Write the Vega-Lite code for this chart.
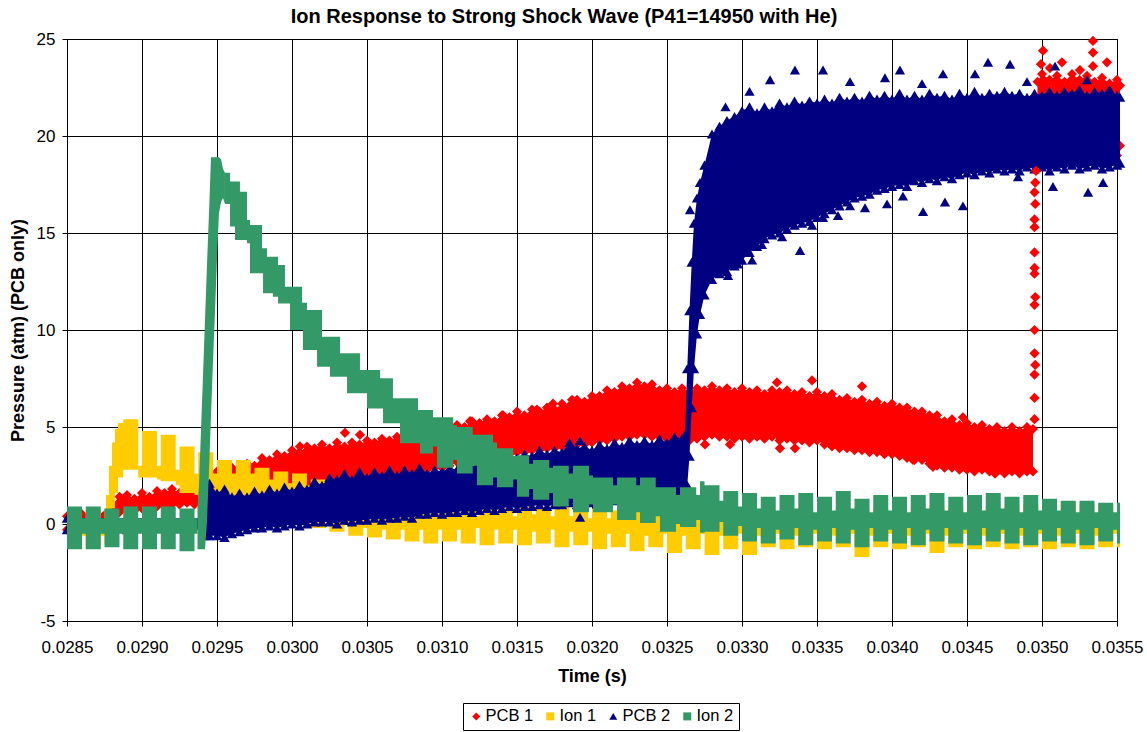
{
"$schema":"https://vega.github.io/schema/vega-lite/v6.json",
"width":1050,"height":582,
"autosize":{"type":"none"},
"padding":{"left":67,"top":39,"right":30,"bottom":111},
"background":"white",
"title":{"text":"Ion Response to Strong Shock Wave (P41=14950 with He)","font":"Liberation Sans","fontSize":20,"fontWeight":"bold","color":"black","anchor":"middle","offset":3,"dx":-28},
"datasets":{
"pcb1":[
{"g":1,"t":0.0285,"lo":-0.3,"hi":0.4},{"g":1,"t":0.0286,"lo":-0.2,"hi":0.5},{"g":1,"t":0.0287,"lo":-0.3,"hi":0.4},{"g":1,"t":0.0288,"lo":0.2,"hi":1.0},{"g":1,"t":0.02885,"lo":0.6,"hi":1.4},{"g":1,"t":0.0289,"lo":0.7,"hi":1.5},{"g":1,"t":0.02895,"lo":0.7,"hi":1.3},{"g":1,"t":0.029,"lo":0.8,"hi":1.6},{"g":1,"t":0.02905,"lo":0.8,"hi":1.4},{"g":1,"t":0.0291,"lo":0.9,"hi":1.7},{"g":1,"t":0.02915,"lo":0.9,"hi":1.6},{"g":1,"t":0.0292,"lo":1.0,"hi":1.8},{"g":1,"t":0.02925,"lo":1.0,"hi":1.6},{"g":1,"t":0.0293,"lo":1.1,"hi":1.9},{"g":1,"t":0.02935,"lo":1.0,"hi":1.7},{"g":1,"t":0.0294,"lo":1.1,"hi":2.0},{"g":1,"t":0.02945,"lo":1.2,"hi":2.5},{"g":1,"t":0.0295,"lo":1.3,"hi":2.7},{"g":1,"t":0.02955,"lo":1.3,"hi":2.6},{"g":1,"t":0.0296,"lo":1.4,"hi":2.9},{"g":1,"t":0.02965,"lo":1.4,"hi":2.8},{"g":1,"t":0.0297,"lo":1.5,"hi":3.1},{"g":1,"t":0.02975,"lo":1.5,"hi":3.0},{"g":1,"t":0.0298,"lo":1.6,"hi":3.4},{"g":1,"t":0.02985,"lo":1.7,"hi":3.3},{"g":1,"t":0.0299,"lo":1.7,"hi":3.6},{"g":1,"t":0.02995,"lo":1.8,"hi":3.5},{"g":1,"t":0.03,"lo":1.9,"hi":3.8},{"g":1,"t":0.03005,"lo":1.9,"hi":3.7},{"g":1,"t":0.0301,"lo":2.0,"hi":4.0},{"g":1,"t":0.03015,"lo":2.0,"hi":3.9},{"g":1,"t":0.0302,"lo":2.1,"hi":4.1},{"g":1,"t":0.03025,"lo":2.1,"hi":3.9},{"g":1,"t":0.0303,"lo":2.2,"hi":4.2},{"g":1,"t":0.03035,"lo":2.2,"hi":4.0},{"g":1,"t":0.0304,"lo":2.3,"hi":4.2},{"g":1,"t":0.03045,"lo":2.3,"hi":4.1},{"g":1,"t":0.0305,"lo":2.4,"hi":4.3},{"g":1,"t":0.03055,"lo":2.4,"hi":4.2},{"g":1,"t":0.0306,"lo":2.5,"hi":4.4},{"g":1,"t":0.03065,"lo":2.5,"hi":4.3},{"g":1,"t":0.0307,"lo":2.6,"hi":4.5},{"g":1,"t":0.03075,"lo":2.6,"hi":4.4},{"g":1,"t":0.0308,"lo":2.7,"hi":4.6},{"g":1,"t":0.03085,"lo":2.8,"hi":4.6},{"g":1,"t":0.0309,"lo":2.8,"hi":4.8},{"g":1,"t":0.03095,"lo":2.9,"hi":4.7},{"g":1,"t":0.031,"lo":2.9,"hi":4.9},{"g":1,"t":0.03105,"lo":3.0,"hi":4.9},{"g":1,"t":0.0311,"lo":3.2,"hi":5.1},{"g":1,"t":0.03115,"lo":3.3,"hi":5.0},{"g":1,"t":0.0312,"lo":3.4,"hi":5.3},{"g":1,"t":0.03125,"lo":3.4,"hi":5.2},{"g":1,"t":0.0313,"lo":3.5,"hi":5.4},{"g":1,"t":0.03135,"lo":3.5,"hi":5.3},{"g":1,"t":0.0314,"lo":3.6,"hi":5.6},{"g":1,"t":0.03145,"lo":3.6,"hi":5.5},{"g":1,"t":0.0315,"lo":3.7,"hi":5.8},{"g":1,"t":0.03155,"lo":3.7,"hi":5.6},{"g":1,"t":0.0316,"lo":3.8,"hi":5.9},{"g":1,"t":0.03165,"lo":3.8,"hi":5.8},{"g":1,"t":0.0317,"lo":3.9,"hi":6.0},{"g":1,"t":0.03175,"lo":3.9,"hi":5.9},{"g":1,"t":0.0318,"lo":4.0,"hi":6.2},{"g":1,"t":0.03185,"lo":4.0,"hi":6.1},{"g":1,"t":0.0319,"lo":4.1,"hi":6.4},{"g":1,"t":0.03195,"lo":4.1,"hi":6.3},{"g":1,"t":0.032,"lo":4.2,"hi":6.6},{"g":1,"t":0.03205,"lo":4.3,"hi":6.6},{"g":1,"t":0.0321,"lo":4.3,"hi":6.9},{"g":1,"t":0.03215,"lo":4.4,"hi":6.8},{"g":1,"t":0.0322,"lo":4.5,"hi":7.1},{"g":1,"t":0.03225,"lo":4.5,"hi":7.0},{"g":1,"t":0.0323,"lo":4.6,"hi":7.3},{"g":1,"t":0.03235,"lo":4.6,"hi":7.1},{"g":1,"t":0.0324,"lo":4.5,"hi":7.2},{"g":1,"t":0.03245,"lo":4.5,"hi":6.9},{"g":1,"t":0.0325,"lo":4.4,"hi":7.0},{"g":1,"t":0.03255,"lo":4.3,"hi":6.8},{"g":1,"t":0.0326,"lo":4.2,"hi":7.0},{"g":1,"t":0.03265,"lo":4.3,"hi":6.8},{"g":1,"t":0.0327,"lo":4.4,"hi":7.0},{"g":1,"t":0.03275,"lo":4.5,"hi":6.9},{"g":1,"t":0.0328,"lo":4.6,"hi":7.1},{"g":1,"t":0.03285,"lo":4.5,"hi":6.9},{"g":1,"t":0.0329,"lo":4.5,"hi":7.0},{"g":1,"t":0.03295,"lo":4.4,"hi":6.8},{"g":1,"t":0.033,"lo":4.5,"hi":7.0},{"g":1,"t":0.03305,"lo":4.4,"hi":6.8},{"g":1,"t":0.0331,"lo":4.5,"hi":6.9},{"g":1,"t":0.03315,"lo":4.4,"hi":6.7},{"g":1,"t":0.0332,"lo":4.5,"hi":6.9},{"g":1,"t":0.03325,"lo":4.3,"hi":6.8},{"g":1,"t":0.0333,"lo":4.4,"hi":6.9},{"g":1,"t":0.03335,"lo":4.3,"hi":6.7},{"g":1,"t":0.0334,"lo":4.3,"hi":6.8},{"g":1,"t":0.03345,"lo":4.2,"hi":6.6},{"g":1,"t":0.0335,"lo":4.3,"hi":6.8},{"g":1,"t":0.03355,"lo":4.1,"hi":6.6},{"g":1,"t":0.0336,"lo":4.0,"hi":6.7},{"g":1,"t":0.03365,"lo":3.9,"hi":6.4},{"g":1,"t":0.0337,"lo":3.9,"hi":6.5},{"g":1,"t":0.03375,"lo":3.8,"hi":6.3},{"g":1,"t":0.0338,"lo":3.8,"hi":6.4},{"g":1,"t":0.03385,"lo":3.7,"hi":6.2},{"g":1,"t":0.0339,"lo":3.7,"hi":6.3},{"g":1,"t":0.03395,"lo":3.6,"hi":6.1},{"g":1,"t":0.034,"lo":3.6,"hi":6.2},{"g":1,"t":0.03405,"lo":3.5,"hi":6.0},{"g":1,"t":0.0341,"lo":3.4,"hi":6.0},{"g":1,"t":0.03415,"lo":3.3,"hi":5.8},{"g":1,"t":0.0342,"lo":3.3,"hi":5.8},{"g":1,"t":0.03425,"lo":3.1,"hi":5.6},{"g":1,"t":0.0343,"lo":3.0,"hi":5.6},{"g":1,"t":0.03435,"lo":2.9,"hi":5.3},{"g":1,"t":0.0344,"lo":2.9,"hi":5.4},{"g":1,"t":0.03445,"lo":2.8,"hi":5.1},{"g":1,"t":0.0345,"lo":2.8,"hi":5.2},{"g":1,"t":0.03455,"lo":2.7,"hi":5.0},{"g":1,"t":0.0346,"lo":2.8,"hi":5.1},{"g":1,"t":0.03465,"lo":2.7,"hi":4.9},{"g":1,"t":0.0347,"lo":2.7,"hi":5.0},{"g":1,"t":0.03475,"lo":2.6,"hi":4.8},{"g":1,"t":0.0348,"lo":2.7,"hi":5.0},{"g":1,"t":0.03485,"lo":2.6,"hi":4.8},{"g":1,"t":0.0349,"lo":2.7,"hi":5.0},{"g":1,"t":0.03494,"lo":2.7,"hi":4.9},
{"g":2,"t":0.03497,"lo":18.8,"hi":22.8},{"g":2,"t":0.035,"lo":19.0,"hi":23.2},{"g":2,"t":0.03505,"lo":19.2,"hi":22.9},{"g":2,"t":0.0351,"lo":19.0,"hi":23.1},{"g":2,"t":0.03515,"lo":19.3,"hi":22.8},{"g":2,"t":0.0352,"lo":19.1,"hi":23.2},{"g":2,"t":0.03525,"lo":19.2,"hi":22.9},{"g":2,"t":0.0353,"lo":19.0,"hi":23.1},{"g":2,"t":0.03535,"lo":19.3,"hi":22.8},{"g":2,"t":0.0354,"lo":19.1,"hi":23.0},{"g":2,"t":0.03545,"lo":19.2,"hi":22.7},{"g":2,"t":0.0355,"lo":19.0,"hi":22.9},{"g":2,"t":0.03552,"lo":19.5,"hi":22.6}
],
"ion1":[
{"t":0.0285,"lo":-1.2,"hi":0.6},{"t":0.0286,"lo":-0.6,"hi":0.2},{"t":0.028625,"lo":-1.2,"hi":0.7},{"t":0.028725,"lo":-0.6,"hi":0.2},{"t":0.02875,"lo":-1.0,"hi":0.8},{"t":0.02876,"lo":-0.5,"hi":1.5},{"t":0.02878,"lo":0.0,"hi":3.0},{"t":0.0288,"lo":0.8,"hi":4.2},{"t":0.02882,"lo":1.6,"hi":4.9},{"t":0.02884,"lo":2.4,"hi":5.2},
{"t":0.028875,"lo":2.8,"hi":5.4},{"t":0.028975,"lo":2.4,"hi":3.0},{"t":0.029,"lo":2.4,"hi":4.8},{"t":0.0291,"lo":2.3,"hi":3.0},{"t":0.029125,"lo":2.2,"hi":4.6},{"t":0.029225,"lo":2.0,"hi":2.8},{"t":0.02925,"lo":1.6,"hi":4.0},{"t":0.02935,"lo":1.5,"hi":2.6},{"t":0.029375,"lo":1.2,"hi":3.7},{"t":0.029475,"lo":1.2,"hi":2.6},
{"t":0.0295,"lo":0.8,"hi":3.3},{"t":0.0296,"lo":1.0,"hi":2.6},{"t":0.029625,"lo":0.6,"hi":3.3},{"t":0.029725,"lo":0.8,"hi":2.6},{"t":0.02975,"lo":0.4,"hi":2.9},{"t":0.02985,"lo":0.7,"hi":2.3},{"t":0.029875,"lo":0.2,"hi":2.7},{"t":0.029975,"lo":0.5,"hi":2.1},{"t":0.03,"lo":0.0,"hi":2.6},{"t":0.0301,"lo":0.4,"hi":2.0},
{"t":0.030125,"lo":-0.2,"hi":2.3},{"t":0.030225,"lo":0.2,"hi":1.8},{"t":0.03025,"lo":-0.4,"hi":2.1},{"t":0.03035,"lo":0.0,"hi":1.6},{"t":0.030375,"lo":-0.6,"hi":1.9},{"t":0.030475,"lo":-0.2,"hi":1.4},{"t":0.0305,"lo":-0.7,"hi":1.5},{"t":0.0306,"lo":-0.3,"hi":1.1},{"t":0.030625,"lo":-0.8,"hi":1.3},{"t":0.030725,"lo":-0.3,"hi":0.9},
{"t":0.03075,"lo":-0.9,"hi":1.1},{"t":0.03085,"lo":-0.3,"hi":0.6},{"t":0.030875,"lo":-1.0,"hi":1.0},{"t":0.030975,"lo":-0.3,"hi":0.5},{"t":0.031,"lo":-0.9,"hi":0.9},{"t":0.0311,"lo":-0.3,"hi":0.5},{"t":0.031125,"lo":-1.0,"hi":1.0},{"t":0.031225,"lo":-0.2,"hi":0.4},{"t":0.03125,"lo":-1.1,"hi":0.9},{"t":0.03135,"lo":-0.3,"hi":0.5},
{"t":0.031375,"lo":-1.0,"hi":0.8},{"t":0.031475,"lo":-0.3,"hi":0.4},{"t":0.0315,"lo":-1.1,"hi":0.9},{"t":0.0316,"lo":-0.4,"hi":0.5},{"t":0.031625,"lo":-1.0,"hi":0.8},{"t":0.031725,"lo":-0.3,"hi":0.4},{"t":0.03175,"lo":-1.2,"hi":0.9},{"t":0.03185,"lo":-0.4,"hi":0.4},{"t":0.031875,"lo":-1.1,"hi":0.8},{"t":0.031975,"lo":-0.4,"hi":0.3},
{"t":0.032,"lo":-1.3,"hi":0.8},{"t":0.0321,"lo":-0.5,"hi":0.3},{"t":0.032125,"lo":-1.2,"hi":0.7},{"t":0.032225,"lo":-0.5,"hi":0.3},{"t":0.03225,"lo":-1.4,"hi":0.7},{"t":0.03235,"lo":-0.6,"hi":0.2},{"t":0.032375,"lo":-1.2,"hi":0.8},{"t":0.032475,"lo":-0.5,"hi":0.3},{"t":0.0325,"lo":-1.5,"hi":0.7},{"t":0.0326,"lo":-0.6,"hi":0.2},
{"t":0.032625,"lo":-1.3,"hi":0.7},{"t":0.032725,"lo":-0.5,"hi":0.2},{"t":0.03275,"lo":-1.6,"hi":0.6},{"t":0.03285,"lo":-0.6,"hi":0.2},{"t":0.032875,"lo":-1.3,"hi":0.7},{"t":0.032975,"lo":-0.5,"hi":0.3},{"t":0.033,"lo":-1.6,"hi":0.6},{"t":0.0331,"lo":-0.6,"hi":0.2},{"t":0.033125,"lo":-1.2,"hi":0.7},{"t":0.033225,"lo":-0.5,"hi":0.3},
{"t":0.03325,"lo":-1.3,"hi":0.6},{"t":0.03335,"lo":-0.6,"hi":0.2},{"t":0.033375,"lo":-1.2,"hi":0.7},{"t":0.033475,"lo":-0.5,"hi":0.2},{"t":0.0335,"lo":-1.3,"hi":0.7},{"t":0.0336,"lo":-0.6,"hi":0.3},{"t":0.033625,"lo":-1.2,"hi":0.8},{"t":0.033725,"lo":-0.5,"hi":0.3},{"t":0.03375,"lo":-1.7,"hi":0.7},{"t":0.03385,"lo":-0.6,"hi":0.3},
{"t":0.033875,"lo":-1.2,"hi":0.8},{"t":0.033975,"lo":-0.5,"hi":0.3},{"t":0.034,"lo":-1.3,"hi":0.8},{"t":0.0341,"lo":-0.6,"hi":0.3},{"t":0.034125,"lo":-1.2,"hi":0.9},{"t":0.034225,"lo":-0.5,"hi":0.4},{"t":0.03425,"lo":-1.5,"hi":0.9},{"t":0.03435,"lo":-0.6,"hi":0.4},{"t":0.034375,"lo":-1.2,"hi":0.9},{"t":0.034475,"lo":-0.5,"hi":0.4},
{"t":0.0345,"lo":-1.3,"hi":1.0},{"t":0.0346,"lo":-0.6,"hi":0.4},{"t":0.034625,"lo":-1.2,"hi":0.9},{"t":0.034725,"lo":-0.5,"hi":0.4},{"t":0.03475,"lo":-1.3,"hi":1.0},{"t":0.03485,"lo":-0.6,"hi":0.5},{"t":0.034875,"lo":-1.2,"hi":1.0},{"t":0.034975,"lo":-0.5,"hi":0.5},{"t":0.035,"lo":-1.3,"hi":1.0},{"t":0.0351,"lo":-0.6,"hi":0.5},
{"t":0.035125,"lo":-1.2,"hi":1.1},{"t":0.035225,"lo":-0.5,"hi":0.5},{"t":0.03525,"lo":-1.3,"hi":1.0},{"t":0.03535,"lo":-0.6,"hi":0.5},{"t":0.035375,"lo":-1.2,"hi":1.0},{"t":0.035475,"lo":-0.5,"hi":0.4},{"t":0.0355,"lo":-1.2,"hi":0.9},{"t":0.03552,"lo":-1.2,"hi":0.9}
],
"pcb2":[
{"t":0.0285,"lo":-0.3,"hi":0.3},{"t":0.0289,"lo":-0.3,"hi":0.3},{"t":0.0293,"lo":-0.3,"hi":0.3},{"t":0.029413,"lo":-0.3,"hi":0.3},{"t":0.029425,"lo":-0.6,"hi":2.0},
{"t":0.02945,"lo":-0.6,"hi":2.1},{"t":0.0295,"lo":-0.6,"hi":1.6},{"t":0.02955,"lo":-0.7,"hi":1.8},{"t":0.0296,"lo":-0.5,"hi":1.4},{"t":0.02965,"lo":-0.4,"hi":1.6},{"t":0.0297,"lo":-0.3,"hi":1.4},{"t":0.02975,"lo":-0.2,"hi":1.7},{"t":0.0298,"lo":-0.2,"hi":1.5},{"t":0.02985,"lo":-0.1,"hi":1.8},{"t":0.0299,"lo":-0.2,"hi":1.6},
{"t":0.02995,"lo":-0.1,"hi":1.9},{"t":0.03,"lo":0.0,"hi":1.7},{"t":0.03005,"lo":-0.1,"hi":2.0},{"t":0.0301,"lo":0.0,"hi":1.8},{"t":0.03015,"lo":0.1,"hi":2.2},{"t":0.0302,"lo":0.1,"hi":2.0},{"t":0.03025,"lo":0.1,"hi":2.4},{"t":0.0303,"lo":0.0,"hi":2.3},{"t":0.03035,"lo":0.2,"hi":2.6},{"t":0.0304,"lo":0.1,"hi":2.3},
{"t":0.03045,"lo":0.2,"hi":2.7},{"t":0.0305,"lo":0.2,"hi":2.4},{"t":0.03055,"lo":0.3,"hi":2.7},{"t":0.0306,"lo":0.2,"hi":2.5},{"t":0.03065,"lo":0.3,"hi":2.8},{"t":0.0307,"lo":0.3,"hi":2.5},{"t":0.03075,"lo":0.4,"hi":2.8},{"t":0.0308,"lo":0.3,"hi":2.6},{"t":0.03085,"lo":0.5,"hi":2.9},{"t":0.0309,"lo":0.5,"hi":2.6},
{"t":0.03095,"lo":0.6,"hi":2.8},{"t":0.031,"lo":0.5,"hi":2.7},{"t":0.03105,"lo":0.6,"hi":2.9},{"t":0.0311,"lo":0.6,"hi":2.8},{"t":0.03115,"lo":0.7,"hi":3.1},{"t":0.0312,"lo":0.6,"hi":2.9},{"t":0.03125,"lo":0.7,"hi":3.3},{"t":0.0313,"lo":0.8,"hi":3.1},{"t":0.03135,"lo":0.7,"hi":3.4},{"t":0.0314,"lo":0.8,"hi":3.2},
{"t":0.03145,"lo":0.9,"hi":3.5},{"t":0.0315,"lo":0.8,"hi":3.4},{"t":0.03155,"lo":0.9,"hi":3.6},{"t":0.0316,"lo":0.9,"hi":3.5},{"t":0.03165,"lo":1.0,"hi":3.8},{"t":0.0317,"lo":0.9,"hi":3.6},{"t":0.03175,"lo":1.0,"hi":3.8},{"t":0.0318,"lo":1.0,"hi":3.7},{"t":0.03185,"lo":1.1,"hi":4.2},{"t":0.0319,"lo":1.0,"hi":3.9},
{"t":0.03195,"lo":1.1,"hi":4.0},{"t":0.032,"lo":1.1,"hi":3.8},{"t":0.03205,"lo":1.2,"hi":4.1},{"t":0.0321,"lo":1.1,"hi":3.9},{"t":0.03215,"lo":1.2,"hi":4.2},{"t":0.0322,"lo":1.2,"hi":4.0},{"t":0.03225,"lo":1.3,"hi":4.3},{"t":0.0323,"lo":1.2,"hi":4.1},{"t":0.03235,"lo":1.3,"hi":4.3},{"t":0.0324,"lo":1.3,"hi":4.1},
{"t":0.03245,"lo":1.4,"hi":4.4},{"t":0.0325,"lo":1.4,"hi":4.2},{"t":0.03255,"lo":1.4,"hi":4.5},{"t":0.0326,"lo":1.5,"hi":4.4},
{"t":0.03262,"lo":1.6,"hi":4.6},{"t":0.032635,"lo":2.0,"hi":8.0},{"t":0.03265,"lo":3.5,"hi":11.0},{"t":0.032665,"lo":6.0,"hi":13.5},{"t":0.03268,"lo":8.0,"hi":15.5},{"t":0.0327,"lo":9.8,"hi":16.8},{"t":0.03272,"lo":10.8,"hi":17.6},{"t":0.03275,"lo":11.8,"hi":18.5},{"t":0.0328,"lo":12.6,"hi":20.1},{"t":0.03285,"lo":12.9,"hi":20.5},
{"t":0.0329,"lo":13.0,"hi":20.8},{"t":0.03295,"lo":13.3,"hi":21.0},{"t":0.033,"lo":13.6,"hi":21.3},{"t":0.03305,"lo":14.0,"hi":21.5},{"t":0.0331,"lo":14.3,"hi":21.2},{"t":0.03315,"lo":14.7,"hi":21.5},{"t":0.0332,"lo":14.9,"hi":21.3},{"t":0.03325,"lo":15.0,"hi":21.7},{"t":0.0333,"lo":15.2,"hi":21.5},{"t":0.03335,"lo":15.4,"hi":21.8},
{"t":0.0334,"lo":15.5,"hi":21.6},{"t":0.03345,"lo":15.6,"hi":21.8},{"t":0.0335,"lo":15.8,"hi":21.7},{"t":0.03355,"lo":16.0,"hi":21.9},{"t":0.0336,"lo":16.2,"hi":21.7},{"t":0.03365,"lo":16.4,"hi":22.0},{"t":0.0337,"lo":16.6,"hi":21.8},{"t":0.03375,"lo":16.8,"hi":22.0},{"t":0.0338,"lo":16.9,"hi":21.8},{"t":0.03385,"lo":17.0,"hi":22.1},
{"t":0.0339,"lo":17.2,"hi":21.9},{"t":0.03395,"lo":17.3,"hi":22.1},{"t":0.034,"lo":17.4,"hi":21.9},{"t":0.03405,"lo":17.5,"hi":22.2},{"t":0.0341,"lo":17.4,"hi":21.9},{"t":0.03415,"lo":17.7,"hi":22.1},{"t":0.0342,"lo":17.6,"hi":21.9},{"t":0.03425,"lo":17.8,"hi":22.2},{"t":0.0343,"lo":17.7,"hi":22.0},{"t":0.03435,"lo":17.9,"hi":22.1},
{"t":0.0344,"lo":17.8,"hi":21.9},{"t":0.03445,"lo":18.0,"hi":22.2},{"t":0.0345,"lo":18.1,"hi":22.0},{"t":0.03455,"lo":18.0,"hi":22.3},{"t":0.0346,"lo":18.2,"hi":22.0},{"t":0.03465,"lo":18.1,"hi":22.2},{"t":0.0347,"lo":18.3,"hi":22.1},{"t":0.03475,"lo":18.2,"hi":22.3},{"t":0.0348,"lo":18.3,"hi":22.1},{"t":0.03485,"lo":18.2,"hi":22.2},
{"t":0.0349,"lo":18.4,"hi":22.0},{"t":0.03495,"lo":18.3,"hi":22.2},{"t":0.035,"lo":18.4,"hi":22.1},{"t":0.03505,"lo":18.2,"hi":22.3},{"t":0.0351,"lo":18.4,"hi":22.1},{"t":0.03515,"lo":18.3,"hi":22.3},{"t":0.0352,"lo":18.5,"hi":22.2},{"t":0.03525,"lo":18.3,"hi":22.4},{"t":0.0353,"lo":18.4,"hi":22.1},{"t":0.03535,"lo":18.5,"hi":22.3},
{"t":0.0354,"lo":18.3,"hi":22.2},{"t":0.03545,"lo":18.4,"hi":22.4},{"t":0.0355,"lo":18.5,"hi":22.1},{"t":0.03552,"lo":18.6,"hi":22.0}
],
"ion2":[
{"m":"a","t":0.0285,"lo":-1.3,"hi":0.9},{"m":"a","t":0.0286,"lo":-0.5,"hi":0.3},{"m":"a","t":0.028625,"lo":-1.3,"hi":0.9},{"m":"a","t":0.028725,"lo":-0.5,"hi":0.3},{"m":"a","t":0.02875,"lo":-1.2,"hi":0.8},{"m":"a","t":0.02885,"lo":-0.5,"hi":0.3},{"m":"a","t":0.028875,"lo":-1.3,"hi":0.9},{"m":"a","t":0.028975,"lo":-0.5,"hi":0.3},{"m":"a","t":0.029,"lo":-1.3,"hi":0.9},{"m":"a","t":0.0291,"lo":-0.5,"hi":0.3},{"m":"a","t":0.029125,"lo":-1.3,"hi":0.9},{"m":"a","t":0.029225,"lo":-0.5,"hi":0.3},{"m":"a","t":0.02925,"lo":-1.4,"hi":0.8},{"m":"a","t":0.02935,"lo":-0.5,"hi":0.3},{"m":"a","t":0.02937,"lo":-1.3,"hi":0.9},
{"m":"l","t":0.02937,"lo":-1.3,"hi":0.9},{"m":"l","t":0.02938,"lo":-1.3,"hi":2.0},{"m":"l","t":0.029393,"lo":-1.3,"hi":4.8},{"m":"l","t":0.029407,"lo":-1.3,"hi":7.7},{"m":"l","t":0.02942,"lo":-1.3,"hi":10.5},{"m":"l","t":0.029433,"lo":0.1,"hi":13.3},{"m":"l","t":0.029447,"lo":2.8,"hi":16.1},{"m":"l","t":0.02946,"lo":5.6,"hi":18.9},{"m":"l","t":0.029473,"lo":8.3,"hi":18.9},{"m":"l","t":0.029487,"lo":11.0,"hi":18.9},{"m":"l","t":0.0295,"lo":13.7,"hi":18.9},{"m":"l","t":0.029513,"lo":16.0,"hi":18.9},{"m":"l","t":0.029527,"lo":16.6,"hi":18.8},{"m":"l","t":0.02954,"lo":16.8,"hi":18.3},{"m":"l","t":0.029553,"lo":16.5,"hi":18.1},
{"m":"b","t":0.029553,"lo":16.5,"hi":18.1},{"m":"b","t":0.029587,"lo":15.33,"hi":17.65},{"m":"b","t":0.02962,"lo":14.64,"hi":17.65},{"m":"b","t":0.029653,"lo":14.64,"hi":17.13},{"m":"b","t":0.0297,"lo":14.47,"hi":15.67},{"m":"b","t":0.02972,"lo":12.92,"hi":15.41},{"m":"b","t":0.0298,"lo":12.92,"hi":14.21},{"m":"b","t":0.029807,"lo":11.89,"hi":14.21},{"m":"b","t":0.029833,"lo":11.89,"hi":13.78},{"m":"b","t":0.029873,"lo":11.72,"hi":13.78},
{"m":"b","t":0.029907,"lo":11.37,"hi":13.35},{"m":"b","t":0.029953,"lo":11.37,"hi":12.23},{"m":"b","t":0.029987,"lo":10.0,"hi":12.23},{"m":"b","t":0.030067,"lo":10.0,"hi":11.4},{"m":"b","t":0.030073,"lo":8.97,"hi":11.4},{"m":"b","t":0.0301,"lo":8.97,"hi":11.03},{"m":"b","t":0.030167,"lo":8.11,"hi":11.03},{"m":"b","t":0.0302,"lo":8.11,"hi":9.65},{"m":"b","t":0.030253,"lo":7.59,"hi":9.65},{"m":"b","t":0.03032,"lo":7.59,"hi":8.8},
{"m":"b","t":0.030367,"lo":6.74,"hi":8.8},{"m":"b","t":0.030453,"lo":6.74,"hi":7.94},{"m":"b","t":0.0305,"lo":5.96,"hi":7.94},{"m":"b","t":0.030587,"lo":5.96,"hi":7.51},{"m":"b","t":0.030607,"lo":5.19,"hi":7.51},{"m":"b","t":0.030673,"lo":5.19,"hi":6.48},{"m":"b","t":0.03072,"lo":4.16,"hi":6.48},{"m":"b","t":0.03084,"lo":4.16,"hi":5.88},{"m":"b","t":0.030853,"lo":3.64,"hi":5.88},{"m":"b","t":0.03094,"lo":4.0,"hi":5.5},
{"m":"b","t":0.030967,"lo":2.9,"hi":5.5},{"m":"b","t":0.031075,"lo":3.3,"hi":5.1},{"m":"b","t":0.0311,"lo":2.6,"hi":5.0},{"m":"b","t":0.031205,"lo":3.0,"hi":4.6},{"m":"b","t":0.031233,"lo":2.0,"hi":4.6},{"m":"b","t":0.03134,"lo":2.4,"hi":4.2},{"m":"b","t":0.031367,"lo":1.9,"hi":3.9},{"m":"b","t":0.031475,"lo":2.3,"hi":3.5},{"m":"b","t":0.0315,"lo":1.4,"hi":3.55},{"m":"b","t":0.03158,"lo":1.8,"hi":3.1},
{"m":"b","t":0.031607,"lo":1.25,"hi":3.3},{"m":"b","t":0.031715,"lo":1.6,"hi":2.9},{"m":"b","t":0.03174,"lo":0.9,"hi":3.0},{"m":"b","t":0.031845,"lo":1.3,"hi":2.6},{"m":"b","t":0.031873,"lo":0.6,"hi":3.0},{"m":"b","t":0.03198,"lo":1.0,"hi":2.5},{"m":"b","t":0.032007,"lo":0.6,"hi":2.4},{"m":"b","t":0.03214,"lo":1.0,"hi":2.0},{"m":"b","t":0.032167,"lo":0.2,"hi":2.4},{"m":"b","t":0.032295,"lo":0.6,"hi":2.0},
{"m":"b","t":0.03232,"lo":0.05,"hi":2.4},{"m":"b","t":0.032425,"lo":0.4,"hi":1.9},{"m":"b","t":0.032453,"lo":-0.4,"hi":1.9},{"m":"b","t":0.03256,"lo":0.0,"hi":1.5},{"m":"b","t":0.032587,"lo":-0.15,"hi":1.9},{"m":"b","t":0.032695,"lo":0.2,"hi":1.5},{"m":"b","t":0.03272,"lo":-0.45,"hi":2.2},
{"m":"b","t":0.03275,"lo":-0.4,"hi":2.0},{"m":"b","t":0.03285,"lo":0.1,"hi":1.2},{"m":"b","t":0.032875,"lo":-0.6,"hi":1.7},{"m":"b","t":0.032975,"lo":-0.1,"hi":0.9},{"m":"b","t":0.033,"lo":-0.9,"hi":1.6},{"m":"b","t":0.0331,"lo":-0.2,"hi":0.8},{"m":"b","t":0.033125,"lo":-1.0,"hi":1.4},{"m":"b","t":0.033225,"lo":-0.3,"hi":0.7},{"m":"b","t":0.03325,"lo":-0.8,"hi":1.5},{"m":"b","t":0.03335,"lo":-0.2,"hi":0.8},
{"m":"b","t":0.033375,"lo":-1.1,"hi":1.6},{"m":"b","t":0.033475,"lo":-0.3,"hi":0.6},{"m":"b","t":0.0335,"lo":-0.9,"hi":1.4},{"m":"b","t":0.0336,"lo":-0.2,"hi":0.7},{"m":"b","t":0.033625,"lo":-1.0,"hi":1.7},{"m":"b","t":0.033725,"lo":-0.3,"hi":0.8},{"m":"b","t":0.03375,"lo":-1.2,"hi":1.3},{"m":"b","t":0.03385,"lo":-0.2,"hi":0.6},{"m":"b","t":0.033875,"lo":-0.9,"hi":1.5},{"m":"b","t":0.033975,"lo":-0.3,"hi":0.7},
{"m":"b","t":0.034,"lo":-1.0,"hi":1.4},{"m":"b","t":0.0341,"lo":-0.2,"hi":0.6},{"m":"b","t":0.034125,"lo":-1.1,"hi":1.5},{"m":"b","t":0.034225,"lo":-0.3,"hi":0.8},{"m":"b","t":0.03425,"lo":-0.9,"hi":1.6},{"m":"b","t":0.03435,"lo":-0.2,"hi":0.7},{"m":"b","t":0.034375,"lo":-1.0,"hi":1.4},{"m":"b","t":0.034475,"lo":-0.3,"hi":0.6},{"m":"b","t":0.0345,"lo":-1.1,"hi":1.5},{"m":"b","t":0.0346,"lo":-0.2,"hi":0.7},
{"m":"b","t":0.034625,"lo":-0.9,"hi":1.6},{"m":"b","t":0.034725,"lo":-0.3,"hi":0.8},{"m":"b","t":0.03475,"lo":-1.0,"hi":1.4},{"m":"b","t":0.03485,"lo":-0.2,"hi":0.6},{"m":"b","t":0.034875,"lo":-1.1,"hi":1.5},{"m":"b","t":0.034975,"lo":-0.3,"hi":0.7},{"m":"b","t":0.035,"lo":-0.9,"hi":1.3},{"m":"b","t":0.0351,"lo":-0.2,"hi":0.7},{"m":"b","t":0.035125,"lo":-1.0,"hi":1.2},{"m":"b","t":0.035225,"lo":-0.3,"hi":0.6},
{"m":"b","t":0.03525,"lo":-1.1,"hi":1.2},{"m":"b","t":0.03535,"lo":-0.2,"hi":0.6},{"m":"b","t":0.035375,"lo":-0.9,"hi":1.1},{"m":"b","t":0.035475,"lo":-0.3,"hi":0.6},{"m":"b","t":0.0355,"lo":-1.0,"hi":1.1},{"m":"b","t":0.03552,"lo":-1.0,"hi":1.1}
],
"pts":[
{"s":"PCB 1","t":0.030053,"p":4.0},{"s":"PCB 1","t":0.030353,"p":4.7},{"s":"PCB 1","t":0.030453,"p":4.6},{"s":"PCB 1","t":0.031187,"p":5.3},{"s":"PCB 1","t":0.0313,"p":5.25},{"s":"PCB 1","t":0.031407,"p":5.6},{"s":"PCB 1","t":0.031633,"p":5.9},{"s":"PCB 1","t":0.03174,"p":6.2},{"s":"PCB 1","t":0.031867,"p":6.4},{"s":"PCB 1","t":0.033233,"p":7.3},{"s":"PCB 1","t":0.033467,"p":7.4},{"s":"PCB 1","t":0.0338,"p":7.1},{"s":"PCB 1","t":0.034473,"p":5.5},{"s":"PCB 1","t":0.032753,"p":4.1},{"s":"PCB 1","t":0.03292,"p":4.1},{"s":"PCB 1","t":0.033253,"p":3.9},{"s":"PCB 1","t":0.033353,"p":3.9},{"s":"PCB 1","t":0.034053,"p":3.55},{"s":"PCB 1","t":0.03414,"p":3.3},{"s":"PCB 1","t":0.034273,"p":2.95},{"s":"PCB 1","t":0.034453,"p":2.9},{"s":"PCB 1","t":0.034687,"p":2.6},
{"s":"PCB 1","t":0.03495,"p":5.4},{"s":"PCB 1","t":0.03495,"p":6.5},{"s":"PCB 1","t":0.03495,"p":7.7},{"s":"PCB 1","t":0.034955,"p":8.2},{"s":"PCB 1","t":0.03495,"p":8.8},{"s":"PCB 1","t":0.03495,"p":10.0},{"s":"PCB 1","t":0.03495,"p":11.3},{"s":"PCB 1","t":0.034955,"p":11.7},{"s":"PCB 1","t":0.03495,"p":12.9},{"s":"PCB 1","t":0.03495,"p":13.2},{"s":"PCB 1","t":0.03495,"p":14.0},{"s":"PCB 1","t":0.03495,"p":15.3},{"s":"PCB 1","t":0.03495,"p":15.7},{"s":"PCB 1","t":0.034955,"p":16.5},{"s":"PCB 1","t":0.03495,"p":17.1},{"s":"PCB 1","t":0.034955,"p":17.6},{"s":"PCB 1","t":0.03496,"p":18.2},
{"s":"PCB 1","t":0.035007,"p":24.4},{"s":"PCB 1","t":0.034993,"p":23.7},{"s":"PCB 1","t":0.035053,"p":23.5},{"s":"PCB 1","t":0.035133,"p":23.8},{"s":"PCB 1","t":0.03534,"p":24.9},{"s":"PCB 1","t":0.03534,"p":24.3},{"s":"PCB 1","t":0.03534,"p":23.6},{"s":"PCB 1","t":0.035433,"p":23.8},{"s":"PCB 1","t":0.035253,"p":23.4},
{"s":"PCB 2","t":0.032653,"p":16.2},{"s":"PCB 2","t":0.0328,"p":13.0},{"s":"PCB 2","t":0.032853,"p":13.1},{"s":"PCB 2","t":0.032907,"p":12.8},{"s":"PCB 2","t":0.032973,"p":13.4},{"s":"PCB 2","t":0.033067,"p":13.6},{"s":"PCB 2","t":0.033133,"p":14.4},{"s":"PCB 2","t":0.033267,"p":14.8},{"s":"PCB 2","t":0.033387,"p":14.1},{"s":"PCB 2","t":0.033467,"p":15.4},{"s":"PCB 2","t":0.03354,"p":15.8},{"s":"PCB 2","t":0.03364,"p":15.9},{"s":"PCB 2","t":0.03372,"p":16.4},{"s":"PCB 2","t":0.03382,"p":16.3},{"s":"PCB 2","t":0.033967,"p":16.5},{"s":"PCB 2","t":0.034073,"p":16.9},{"s":"PCB 2","t":0.034207,"p":16.1},{"s":"PCB 2","t":0.034353,"p":16.6},{"s":"PCB 2","t":0.034473,"p":16.4},{"s":"PCB 2","t":0.03484,"p":17.9},{"s":"PCB 2","t":0.035073,"p":17.4},{"s":"PCB 2","t":0.035307,"p":17.1},{"s":"PCB 2","t":0.035407,"p":17.6},
{"s":"PCB 2","t":0.033353,"p":23.4},{"s":"PCB 2","t":0.03354,"p":23.4},{"s":"PCB 2","t":0.03372,"p":22.8},{"s":"PCB 2","t":0.033953,"p":23.0},{"s":"PCB 2","t":0.034053,"p":23.4},{"s":"PCB 2","t":0.03434,"p":23.2},{"s":"PCB 2","t":0.034553,"p":23.2},{"s":"PCB 2","t":0.03464,"p":23.8},{"s":"PCB 2","t":0.034787,"p":23.7},{"s":"PCB 2","t":0.035087,"p":23.6},{"s":"PCB 2","t":0.033187,"p":22.9},{"s":"PCB 2","t":0.03305,"p":22.3},{"s":"PCB 2","t":0.03289,"p":21.5},{"s":"PCB 2","t":0.0342,"p":22.7},{"s":"PCB 2","t":0.0349,"p":22.8},{"s":"PCB 2","t":0.0353,"p":22.9},
{"s":"PCB 2","t":0.03192,"p":4.3},{"s":"PCB 2","t":0.03192,"p":0.35}
]
},
"encoding":{
"x":{"field":"t","type":"quantitative","title":"Time (s)","scale":{"domain":[0.0285,0.0355],"nice":false,"zero":false},
 "axis":{"values":[0.0285,0.029,0.0295,0.03,0.0305,0.031,0.0315,0.032,0.0325,0.033,0.0335,0.034,0.0345,0.035,0.0355],"format":".4f","labelPadding":13,"titlePadding":12,"grid":true,"labelFlush":false}},
"y":{"field":"lo","type":"quantitative","title":"Pressure (atm) (PCB only)","scale":{"domain":[-5,25],"nice":false,"zero":false},
 "axis":{"values":[-5,0,5,10,15,20,25],"labelPadding":7,"titlePadding":9,"grid":true,"labelFlush":false,"labelExpr":"replace(datum.label, '\u2212', '-')"}}
},
"layer":[
{"data":{"name":"pcb1"},"mark":{"type":"area","color":"#FF0000","opacity":1},"encoding":{"y2":{"field":"hi"},"detail":{"field":"g","type":"nominal"}}},
{"data":{"name":"pcb1"},"mark":{"type":"point","shape":"diamond","filled":true,"color":"#FF0000","size":100,"opacity":1,"strokeWidth":0},"encoding":{"y":{"field":"hi","type":"quantitative","title":"Pressure (atm) (PCB only)"}}},
{"data":{"name":"pcb1"},"mark":{"type":"point","shape":"diamond","filled":true,"color":"#FF0000","size":100,"opacity":1,"strokeWidth":0}},
{"data":{"name":"ion1"},"mark":{"type":"area","color":"#FFCC00","interpolate":"step-after","opacity":1},"encoding":{"y2":{"field":"hi"}}},
{"data":{"name":"pcb2"},"mark":{"type":"area","color":"#000080","opacity":1},"encoding":{"y2":{"field":"hi"}}},
{"data":{"name":"pcb2"},"mark":{"type":"point","shape":"triangle-up","filled":true,"color":"#000080","size":110,"opacity":1,"strokeWidth":0},"encoding":{"y":{"field":"hi","type":"quantitative","title":"Pressure (atm) (PCB only)"}}},
{"data":{"name":"pcb2"},"mark":{"type":"point","shape":"triangle-up","filled":true,"color":"#000080","size":110,"opacity":1,"strokeWidth":0}},
{"data":{"name":"pts"},"mark":{"type":"point","filled":true,"size":105,"opacity":1,"strokeWidth":0},
 "encoding":{"y":{"field":"p","type":"quantitative","title":"Pressure (atm) (PCB only)"},
  "color":{"field":"s","type":"nominal","scale":{"domain":["PCB 1","Ion 1","PCB 2","Ion 2"],"range":["#FF0000","#FFCC00","#000080","#339966"]},
   "legend":{"title":null,"orient":"none","legendX":396,"legendY":664,"direction":"horizontal","strokeColor":"black","fillColor":"white","padding":5,"labelFont":"Liberation Sans","labelFontSize":16.5,"labelColor":"black","symbolSize":64,"columnPadding":8,"labelOffset":1,"symbolStrokeWidth":0}},
  "shape":{"field":"s","type":"nominal","scale":{"domain":["PCB 1","Ion 1","PCB 2","Ion 2"],"range":["diamond","square","triangle-up","square"]},
   "legend":{"title":null,"orient":"none","legendX":396,"legendY":664,"direction":"horizontal","strokeColor":"black","fillColor":"white","padding":5,"labelFont":"Liberation Sans","labelFontSize":16.5,"labelColor":"black","symbolSize":64,"columnPadding":8,"labelOffset":1,"symbolStrokeWidth":0}}}},
{"data":{"name":"ion2"},"transform":[{"filter":"datum.m != 'l'"}],"mark":{"type":"area","color":"#339966","interpolate":"step-after","opacity":1},"encoding":{"y2":{"field":"hi"},"detail":{"field":"m","type":"nominal"}}},
{"data":{"name":"ion2"},"transform":[{"filter":"datum.m == 'l'"}],"mark":{"type":"area","color":"#339966","interpolate":"linear","opacity":1},"encoding":{"y2":{"field":"hi"}}}
],
"config":{
"view":{"stroke":"black","strokeWidth":1},
"axis":{"labelFont":"Liberation Sans","titleFont":"Liberation Sans","labelFontSize":17,"titleFontSize":18,"titleFontWeight":"bold","labelColor":"black","titleColor":"black","domainColor":"black","tickColor":"black","gridColor":"black","gridOpacity":1,"gridWidth":1,"tickSize":5,"domainWidth":1}
}
}
